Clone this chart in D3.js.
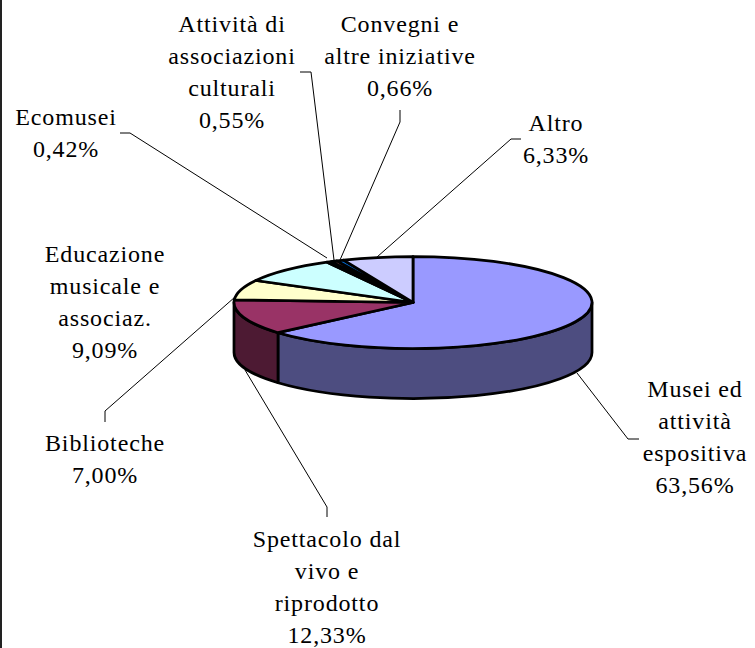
<!DOCTYPE html>
<html><head><meta charset="utf-8">
<script src="https://cdn.jsdelivr.net/npm/d3@7"></script>
<style>html,body{margin:0;padding:0;background:#fff}svg{display:block}</style>
</head><body><script>
const categories=["Musei ed attività espositiva","Spettacolo dal vivo e riprodotto","Biblioteche","Educazione musicale e associaz.","Ecomusei","Attività di associazioni culturali","Convegni e altre iniziative","Altro"];
const values=[63.56,12.33,7.00,9.09,0.42,0.55,0.66,6.33];
const valueLabels=["63,56%","12,33%","7,00%","9,09%","0,42%","0,55%","0,66%","6,33%"];
const labelLines=[["Musei ed","attività","espositiva"],["Spettacolo dal","vivo e","riprodotto"],["Biblioteche"],["Educazione","musicale e","associaz."],["Ecomusei"],["Attività di","associazioni","culturali"],["Convegni e","altre iniziative"],["Altro"]];
const topColors=["#9999FF","#993366","#FFFFCC","#CCFFFF","#660066","#FF8080","#0066CC","#CCCCFF"];
const sideColors=["#4D4D80","#4D1A33","#80805F","#608080","#330033","#804040","#003366","#666680"];
const labelX=[695,327,105,105,66,232,400,556];
const labelY=[397,547,451,262,125,32,32,131];
const leaders=[[[639,439],[628,439],[577,373]],[[327,517],[327,507],[245,370]],[[105,422],[105,411],[235,297]],null,[[120,133],[130,133],[327,258]],[[300,72],[311,72],[334,260]],[[400,110],[400,122],[340,260]],[[521,139],[511,139],[377,257]]];

const W=755,H=648,cx=413,cy=302.5,rx=179,ry=46,depth=50,lh=32,sw=2.75;
const svg=d3.select("body").append("svg").attr("width",W).attr("height",H);
svg.append("line").attr("x1",1).attr("x2",1).attr("y1",0).attr("y2",H).attr("stroke","#222").attr("stroke-width",2);

const pie=d3.pie().sort(null).value(d=>d)(values);
const line=d3.line();
const pt=(a,dy=0)=>[cx+rx*Math.sin(a),cy-ry*Math.cos(a)+dy];
const chart=svg.append("g");

// Front wall: only the visible part of each slice (angles between 90° and 270°)
pie.forEach((d,i)=>{
  const a0=Math.max(d.startAngle,Math.PI/2),a1=Math.min(d.endAngle,3*Math.PI/2);
  if(a1<=a0)return;
  const p0=pt(a0),p1=pt(a1),q0=pt(a0,depth),q1=pt(a1,depth);
  const large=(a1-a0)>Math.PI?1:0;
  chart.append("path")
   .attr("d",`M${p0}A${rx},${ry} 0 ${large} 1 ${p1}L${q1}A${rx},${ry} 0 ${large} 0 ${q0}Z`)
   .attr("fill",sideColors[i]).attr("stroke","#000").attr("stroke-width",sw).attr("stroke-linejoin","round");
});

// Top face
const arc=d3.arc().innerRadius(0).outerRadius(rx);
const topFace=chart.append("g").attr("transform",`translate(${cx},${cy}) scale(1,${ry/rx})`);
topFace.selectAll("path").data(pie).join("path")
  .attr("d",arc)
  .attr("fill",(d,i)=>topColors[i])
  .attr("stroke","#000").attr("stroke-width",sw).attr("stroke-linejoin","round")
  .attr("vector-effect","non-scaling-stroke");

// Leader lines
leaders.forEach(l=>{ if(l) svg.append("path").attr("d",line(l)).attr("fill","none").attr("stroke","#000").attr("stroke-width",1); });

// Labels
values.forEach((v,i)=>{
  const t=svg.append("text").attr("text-anchor","middle")
    .attr("font-family","'Liberation Serif',serif").attr("font-size",24).attr("letter-spacing",0.85).attr("fill","#000");
  [...labelLines[i],valueLabels[i]].forEach((s,k)=>{
    t.append("tspan").attr("x",labelX[i]).attr("y",labelY[i]+k*lh).text(s);
  });
});
</script></body></html>
